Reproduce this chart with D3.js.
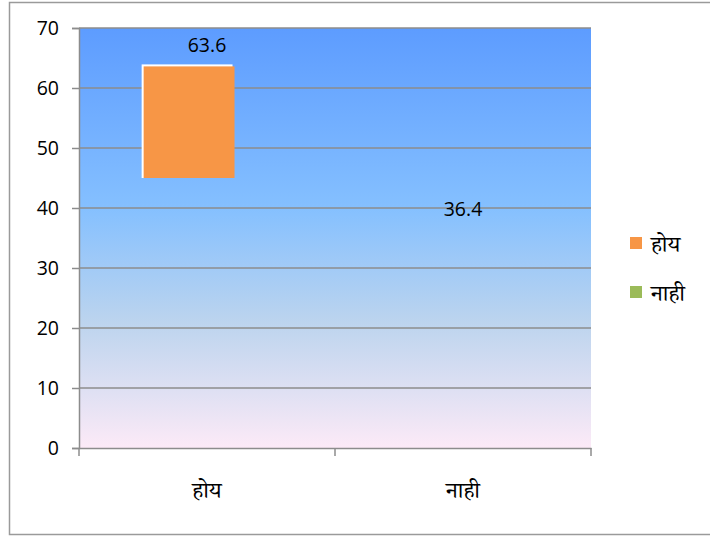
<!DOCTYPE html>
<html>
<head>
<meta charset="utf-8">
<script src="https://cdn.jsdelivr.net/npm/d3@7"></script>
<style>
  body { margin: 0; background: #fff; }
  svg text { font-family: "Open Sans", "Liberation Sans", sans-serif; }
  .deva { font-family: "Noto Serif Devanagari", "Lohit Devanagari", "Noto Sans Devanagari", "Mangal", serif; }
</style>
</head>
<body>
<svg id="chart" width="710" height="537"></svg>
<script>
// data
var categories = ["होय", "नाही"];
var values = [63.6, 36.4];
var visibleBase = [45, null];   // the bar in the picture only shows from ~45 up
var seriesNames = ["होय", "नाही"];
var seriesColors = ["#F79646", "#9BBB59"];
var yTicks = [0, 10, 20, 30, 40, 50, 60, 70];

var svg = d3.select("#chart");
var margin = {left: 79, top: 28, right: 119, bottom: 89};
var width = 710 - margin.left - margin.right,
    height = 537 - margin.top - margin.bottom;

// outer border
svg.append("rect")
  .attr("x", 9.5).attr("y", 2.5)
  .attr("width", 710).attr("height", 532)
  .attr("fill", "none").attr("stroke", "#9a9a9a").attr("stroke-width", 1.5);

var defs = svg.append("defs");
var grad = defs.append("linearGradient").attr("id", "bg")
  .attr("x1", 0).attr("y1", 0).attr("x2", 0).attr("y2", 1);
grad.append("stop").attr("offset", "0%").attr("stop-color", "#5D9CFF");
grad.append("stop").attr("offset", "43%").attr("stop-color", "#85C0FF");
grad.append("stop").attr("offset", "70%").attr("stop-color", "#BCD4EE");
grad.append("stop").attr("offset", "100%").attr("stop-color", "#FCEAF7");

var g = svg.append("g").attr("transform", "translate(" + margin.left + "," + margin.top + ")");

var x = d3.scaleBand().domain(categories).range([0, width]);
var y = d3.scaleLinear().domain([0, 70]).range([height, 0]);

g.append("rect").attr("width", width).attr("height", height).attr("fill", "url(#bg)");

// gridlines
g.selectAll(".grid").data(yTicks.filter(function(d) { return d > 0; }))
  .enter().append("line")
  .attr("x1", 0).attr("x2", width)
  .attr("y1", function(d) { return y(d); }).attr("y2", function(d) { return y(d); })
  .attr("stroke", "#8c8c8c").attr("stroke-width", 1.5);

// y axis
var yAxis = g.append("g").call(d3.axisLeft(y).tickValues(yTicks).tickSize(7).tickPadding(13));
yAxis.select(".domain").attr("stroke", "#8c8c8c").attr("stroke-width", 1.5);
yAxis.selectAll(".tick line").attr("stroke", "#8c8c8c").attr("stroke-width", 1.5);
yAxis.selectAll("text").attr("font-size", 19.5).attr("fill", "#000")
  .attr("font-family", "'Open Sans', sans-serif");

// x axis
var xAxis = g.append("g").attr("transform", "translate(0," + height + ")")
  .call(d3.axisBottom(x).tickSize(0).tickPadding(34));
xAxis.select(".domain").attr("stroke", "#8c8c8c").attr("stroke-width", 1.5);
xAxis.selectAll("text").attr("class", "deva").attr("font-size", 23).attr("fill", "#000");
var xEdges = [0].concat(categories.map(function(c) { return x(c) + x.bandwidth(); }));
g.selectAll(".xtick").data(xEdges).enter().append("line")
  .attr("x1", function(d) { return d; }).attr("x2", function(d) { return d; })
  .attr("y1", height).attr("y2", height + 8)
  .attr("stroke", "#8c8c8c").attr("stroke-width", 1.5);

// bars
var barW = x.bandwidth() * 0.355;
var barShift = -x.bandwidth() * 0.07;
values.forEach(function(v, i) {
  if (visibleBase[i] == null) return;
  var cx = x(categories[i]) + x.bandwidth() / 2 + barShift;
  g.append("rect")
    .attr("x", cx - barW / 2 - 2).attr("y", y(v) - 2)
    .attr("width", barW).attr("height", y(visibleBase[i]) - y(v) + 2)
    .attr("fill", "#fff");
  g.append("rect")
    .attr("x", cx - barW / 2).attr("y", y(v))
    .attr("width", barW).attr("height", y(visibleBase[i]) - y(v))
    .attr("fill", seriesColors[i]);
});

// value labels
g.selectAll(".val").data(values).enter().append("text")
  .attr("x", function(d, i) { return x(categories[i]) + x.bandwidth() / 2; })
  .attr("y", function(d) { return y(d) - 14; })
  .attr("text-anchor", "middle")
  .attr("font-size", 19.5).attr("fill", "#000")
  .text(function(d) { return d; });

// legend
var legend = svg.append("g").attr("transform", "translate(630,237)");
seriesNames.forEach(function(s, i) {
  var row = legend.append("g").attr("transform", "translate(0," + (i * 49) + ")");
  row.append("rect").attr("width", 12).attr("height", 12).attr("fill", seriesColors[i]);
  row.append("text").attr("class", "deva").attr("x", 21).attr("y", 15)
    .attr("font-size", 23).attr("fill", "#000").text(s);
});
</script>
</body>
</html>
